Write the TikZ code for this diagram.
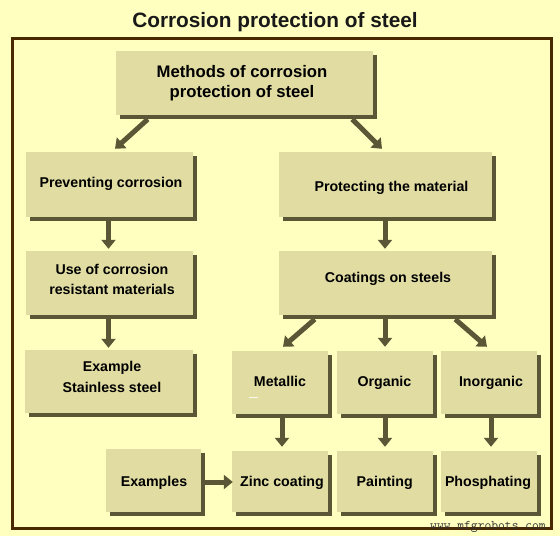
\documentclass[tikz,border=0pt]{standalone}
\usepackage{fontspec}
\setmainfont{Liberation Sans}
\usetikzlibrary{arrows.meta,shadows}
\definecolor{bg}{HTML}{FFFFC0}
\definecolor{boxfill}{HTML}{E0DCA2}
\definecolor{shade}{HTML}{5A5636}
\definecolor{framec}{HTML}{4A2800}
\begin{document}
\begin{tikzpicture}[x=1pt,y=-1pt,
  box/.style={draw=none, fill=boxfill, inner sep=0pt,
    drop shadow={shadow xshift=4pt, shadow yshift=-4pt, fill=shade, opacity=1}},
  txt/.style={font=\bfseries\fontsize{14.2}{20}\selectfont, inner sep=0pt, align=center, text=black},
  arr/.style={draw=shade, line width=5pt, -{Triangle[width=14pt,length=9pt,fill=shade]}}]
\fill[bg] (0,0) rectangle (560,536);
\useasboundingbox (0,0) rectangle (560,536);
\draw[framec, line width=3pt] (12,38.5) rectangle (551.5,528.5);
\node[font=\bfseries\fontsize{20.8}{24}\selectfont, anchor=base, inner sep=0pt, text=black!90] (title) at (275,27) {Corrosion protection of steel};
% boxes
\node[box, minimum width=257pt, minimum height=64pt] (m) at (244.5,83) {};
\node[box, minimum width=167pt, minimum height=65pt] (pc) at (109.5,184.5) {};
\node[box, minimum width=213pt, minimum height=65pt] (pm) at (385.5,184.5) {};
\node[box, minimum width=167pt, minimum height=64pt] (u) at (109.5,283) {};
\node[box, minimum width=213pt, minimum height=64pt] (c) at (385.5,283) {};
\node[box, minimum width=168pt, minimum height=63pt] (e) at (109,381.5) {};
\node[box, minimum width=96pt, minimum height=63pt] (met) at (280,382.5) {};
\node[box, minimum width=96pt, minimum height=63pt] (org) at (385,382.5) {};
\node[box, minimum width=96pt, minimum height=63pt] (ino) at (489,382.5) {};
\node[box, minimum width=95pt, minimum height=63pt] (exs) at (153.5,480.5) {};
\node[box, minimum width=96pt, minimum height=61pt] (zn) at (280,481.5) {};
\node[box, minimum width=96pt, minimum height=61pt] (pa) at (385,481.5) {};
\node[box, minimum width=96pt, minimum height=61pt] (ph) at (489,481.5) {};
% texts
\node[txt, font=\bfseries\fontsize{16.7}{20}\selectfont] (mt) at (242,83) {Methods of corrosion\\protection of steel};
\node[txt, anchor=base] (pct) at (111,187) {Preventing corrosion};
\node[txt, anchor=base] (pmt) at (391.5,191) {Protecting the material};
\node[txt, anchor=base] (ct) at (388,282.7) {Coatings on steels};
\node[txt] (ut) at (112,279.8) {Use of corrosion\\resistant materials};
\node[txt, font=\bfseries\fontsize{14.2}{21.5}\selectfont] (et) at (112,376.7) {Example\\Stainless steel};
\node[txt, anchor=base] (mett) at (280,386.7) {Metallic};
\node[txt, anchor=base] (orgt) at (384.5,386.7) {Organic};
\node[txt, anchor=base] (inot) at (491,386.7) {Inorganic};
\node[txt, anchor=base] (exst) at (154,486) {Examples};
\node[txt, anchor=base] (znt) at (282,486.7) {Zinc coating};
\node[txt, anchor=base] (pat) at (384.7,486.7) {Painting};
\node[txt, anchor=base] (pht) at (488,486.7) {Phosphating};
\draw[white, line width=1pt, opacity=0.8] (249,397) -- (258,397);
% arrows
\draw[arr] ([xshift=32pt,yshift=-4pt]m.south west) -- ([xshift=5.5pt,yshift=3pt]pc.north);
\draw[arr] ([xshift=-21pt,yshift=-4pt]m.south east) -- ([xshift=-3.5pt,yshift=3pt]pm.north);
\draw[arr] ([xshift=-1pt,yshift=-4pt]pc.south) -- ([xshift=-1pt,yshift=2pt]u.north);
\draw[arr] ([xshift=-0.5pt,yshift=-4pt]pm.south) -- ([xshift=-0.5pt,yshift=2pt]c.north);
\draw[arr] ([xshift=-1pt,yshift=-4pt]u.south) -- ([xshift=-0.5pt,yshift=2pt]e.north);
\draw[arr] ([xshift=36pt,yshift=-4pt]c.south west) -- ([xshift=3pt,yshift=4pt]met.north);
\draw[arr] ([xshift=-0.5pt,yshift=-4pt]c.south) -- ([yshift=4pt]org.north);
\draw[arr] ([xshift=-37pt,yshift=-4pt]c.south east) -- ([xshift=-2pt,yshift=4pt]ino.north);
\draw[arr] ([xshift=2pt,yshift=-4pt]met.south) -- ([xshift=2pt,yshift=4pt]zn.north);
\draw[arr] ([yshift=-4pt]org.south) -- ([yshift=4pt]pa.north);
\draw[arr] ([xshift=2pt,yshift=-4pt]ino.south) -- ([xshift=2pt,yshift=4pt]ph.north);
\draw[arr] ([xshift=4pt,yshift=-1.5pt]exs.east) -- ([xshift=1pt,yshift=-0.5pt]zn.west);
% watermark
\node[font=\ttfamily\fontsize{13.2}{14}\selectfont, anchor=base west, inner sep=0pt, text=black!80] (wm) at (430,529) {www.mfgrobots.com};
\end{tikzpicture}
\end{document}
